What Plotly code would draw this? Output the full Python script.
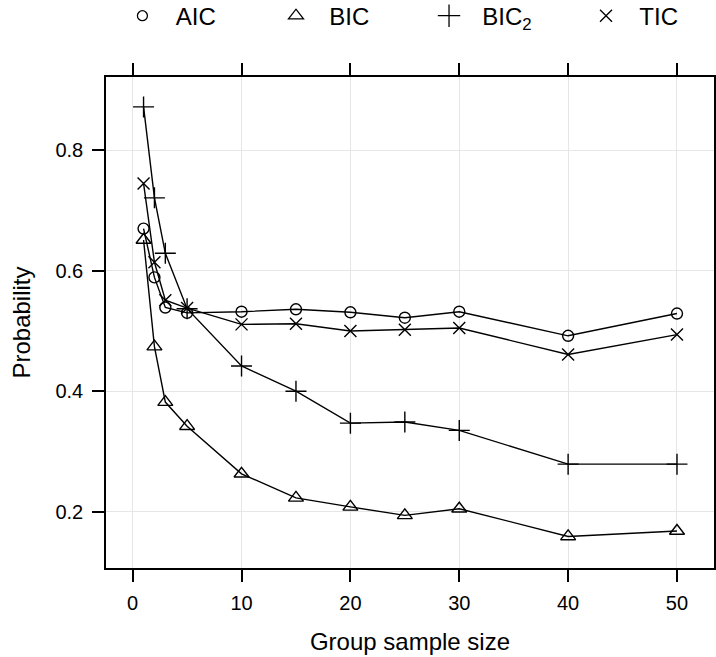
import plotly.graph_objects as go

sample_size = [1, 2, 3, 5, 10, 15, 20, 25, 30, 40, 50]
aic = [0.670, 0.589, 0.539, 0.530, 0.532, 0.536, 0.531, 0.522, 0.532, 0.492, 0.529]
bic = [0.651, 0.474, 0.382, 0.342, 0.263, 0.223, 0.208, 0.194, 0.205, 0.159, 0.168]
bic2 = [0.872, 0.721, 0.629, 0.537, 0.442, 0.400, 0.347, 0.349, 0.335, 0.279, 0.279]
tic = [0.745, 0.614, 0.551, 0.538, 0.511, 0.512, 0.500, 0.502, 0.505, 0.461, 0.494]

series_names = ["AIC", "BIC", "BIC<sub>2</sub>", "TIC"]
series_values = [aic, bic, bic2, tic]
symbols = ["circle-open", "triangle-up-open", "cross-thin-open", "x-thin-open"]
sizes = [11, 13, 15, 12]
legend_sizes = [10, 13, 16, 12]

x_ticks = [0, 10, 20, 30, 40, 50]
y_ticks = [0.2, 0.4, 0.6, 0.8]

FONT = "Liberation Sans, Arial, Helvetica, sans-serif"
PAD = "\u00a0\u00a0"  # gap between key symbol and its label

legend_ids = ["legend", "legend2", "legend3", "legend4"]
legend_x = [0.0270, 0.2796, 0.5313, 0.7895]

fig = go.Figure()
for name, vals, sym, sz in zip(series_names, series_values, symbols, sizes):
    fig.add_trace(go.Scatter(
        x=sample_size, y=vals, mode="lines+markers", name=name, showlegend=False,
        line=dict(color="black", width=1.4),
        marker=dict(symbol=sym, size=sz, color="black", line=dict(color="black", width=1.4)),
    ))
# key entries (symbols only, as in the reference key)
for name, sym, sz, lid in zip(series_names, symbols, legend_sizes, legend_ids):
    fig.add_trace(go.Scatter(
        x=[None], y=[None], mode="markers", name=PAD + name, showlegend=True, legend=lid,
        marker=dict(symbol=sym, size=sz, color="black", line=dict(color="black", width=1.3)),
    ))

axis_common = dict(
    showline=True, linecolor="black", linewidth=1.5, mirror="ticks",
    ticks="outside", ticklen=12, tickwidth=1.5, tickcolor="black",
    showgrid=True, gridcolor="#e6e6e6", gridwidth=1, zeroline=False,
    tickfont=dict(family=FONT, size=20, color="black"),
)

fig.update_xaxes(
    range=[-2.45, 53.4], tickvals=x_ticks, ticktext=[str(v) for v in x_ticks],
    title=dict(text="Group sample size", font=dict(family=FONT, size=24, color="black"), standoff=20),
    ticklabelstandoff=4, **axis_common,
)
fig.update_yaxes(
    range=[0.1066, 0.9216], tickvals=y_ticks, ticktext=[f"{v:.1f}" for v in y_ticks],
    title=dict(text="Probability", font=dict(family=FONT, size=24, color="black"), standoff=18),
    ticklabelstandoff=5, **axis_common,
)

legend_common = dict(
    orientation="h", xanchor="left", y=1.124, yanchor="middle",
    font=dict(family=FONT, size=24, color="black"),
    itemsizing="trace", bgcolor="rgba(0,0,0,0)", borderwidth=0,
)
layout_legends = {lid: dict(x=lx, **legend_common) for lid, lx in zip(legend_ids, legend_x)}

fig.update_layout(
    width=716, height=657,
    margin=dict(l=106, r=2, t=77, b=89, autoexpand=False),
    plot_bgcolor="white", paper_bgcolor="white",
    font=dict(family=FONT, color="black"),
    **layout_legends,
)

fig.write_html("out.html")
